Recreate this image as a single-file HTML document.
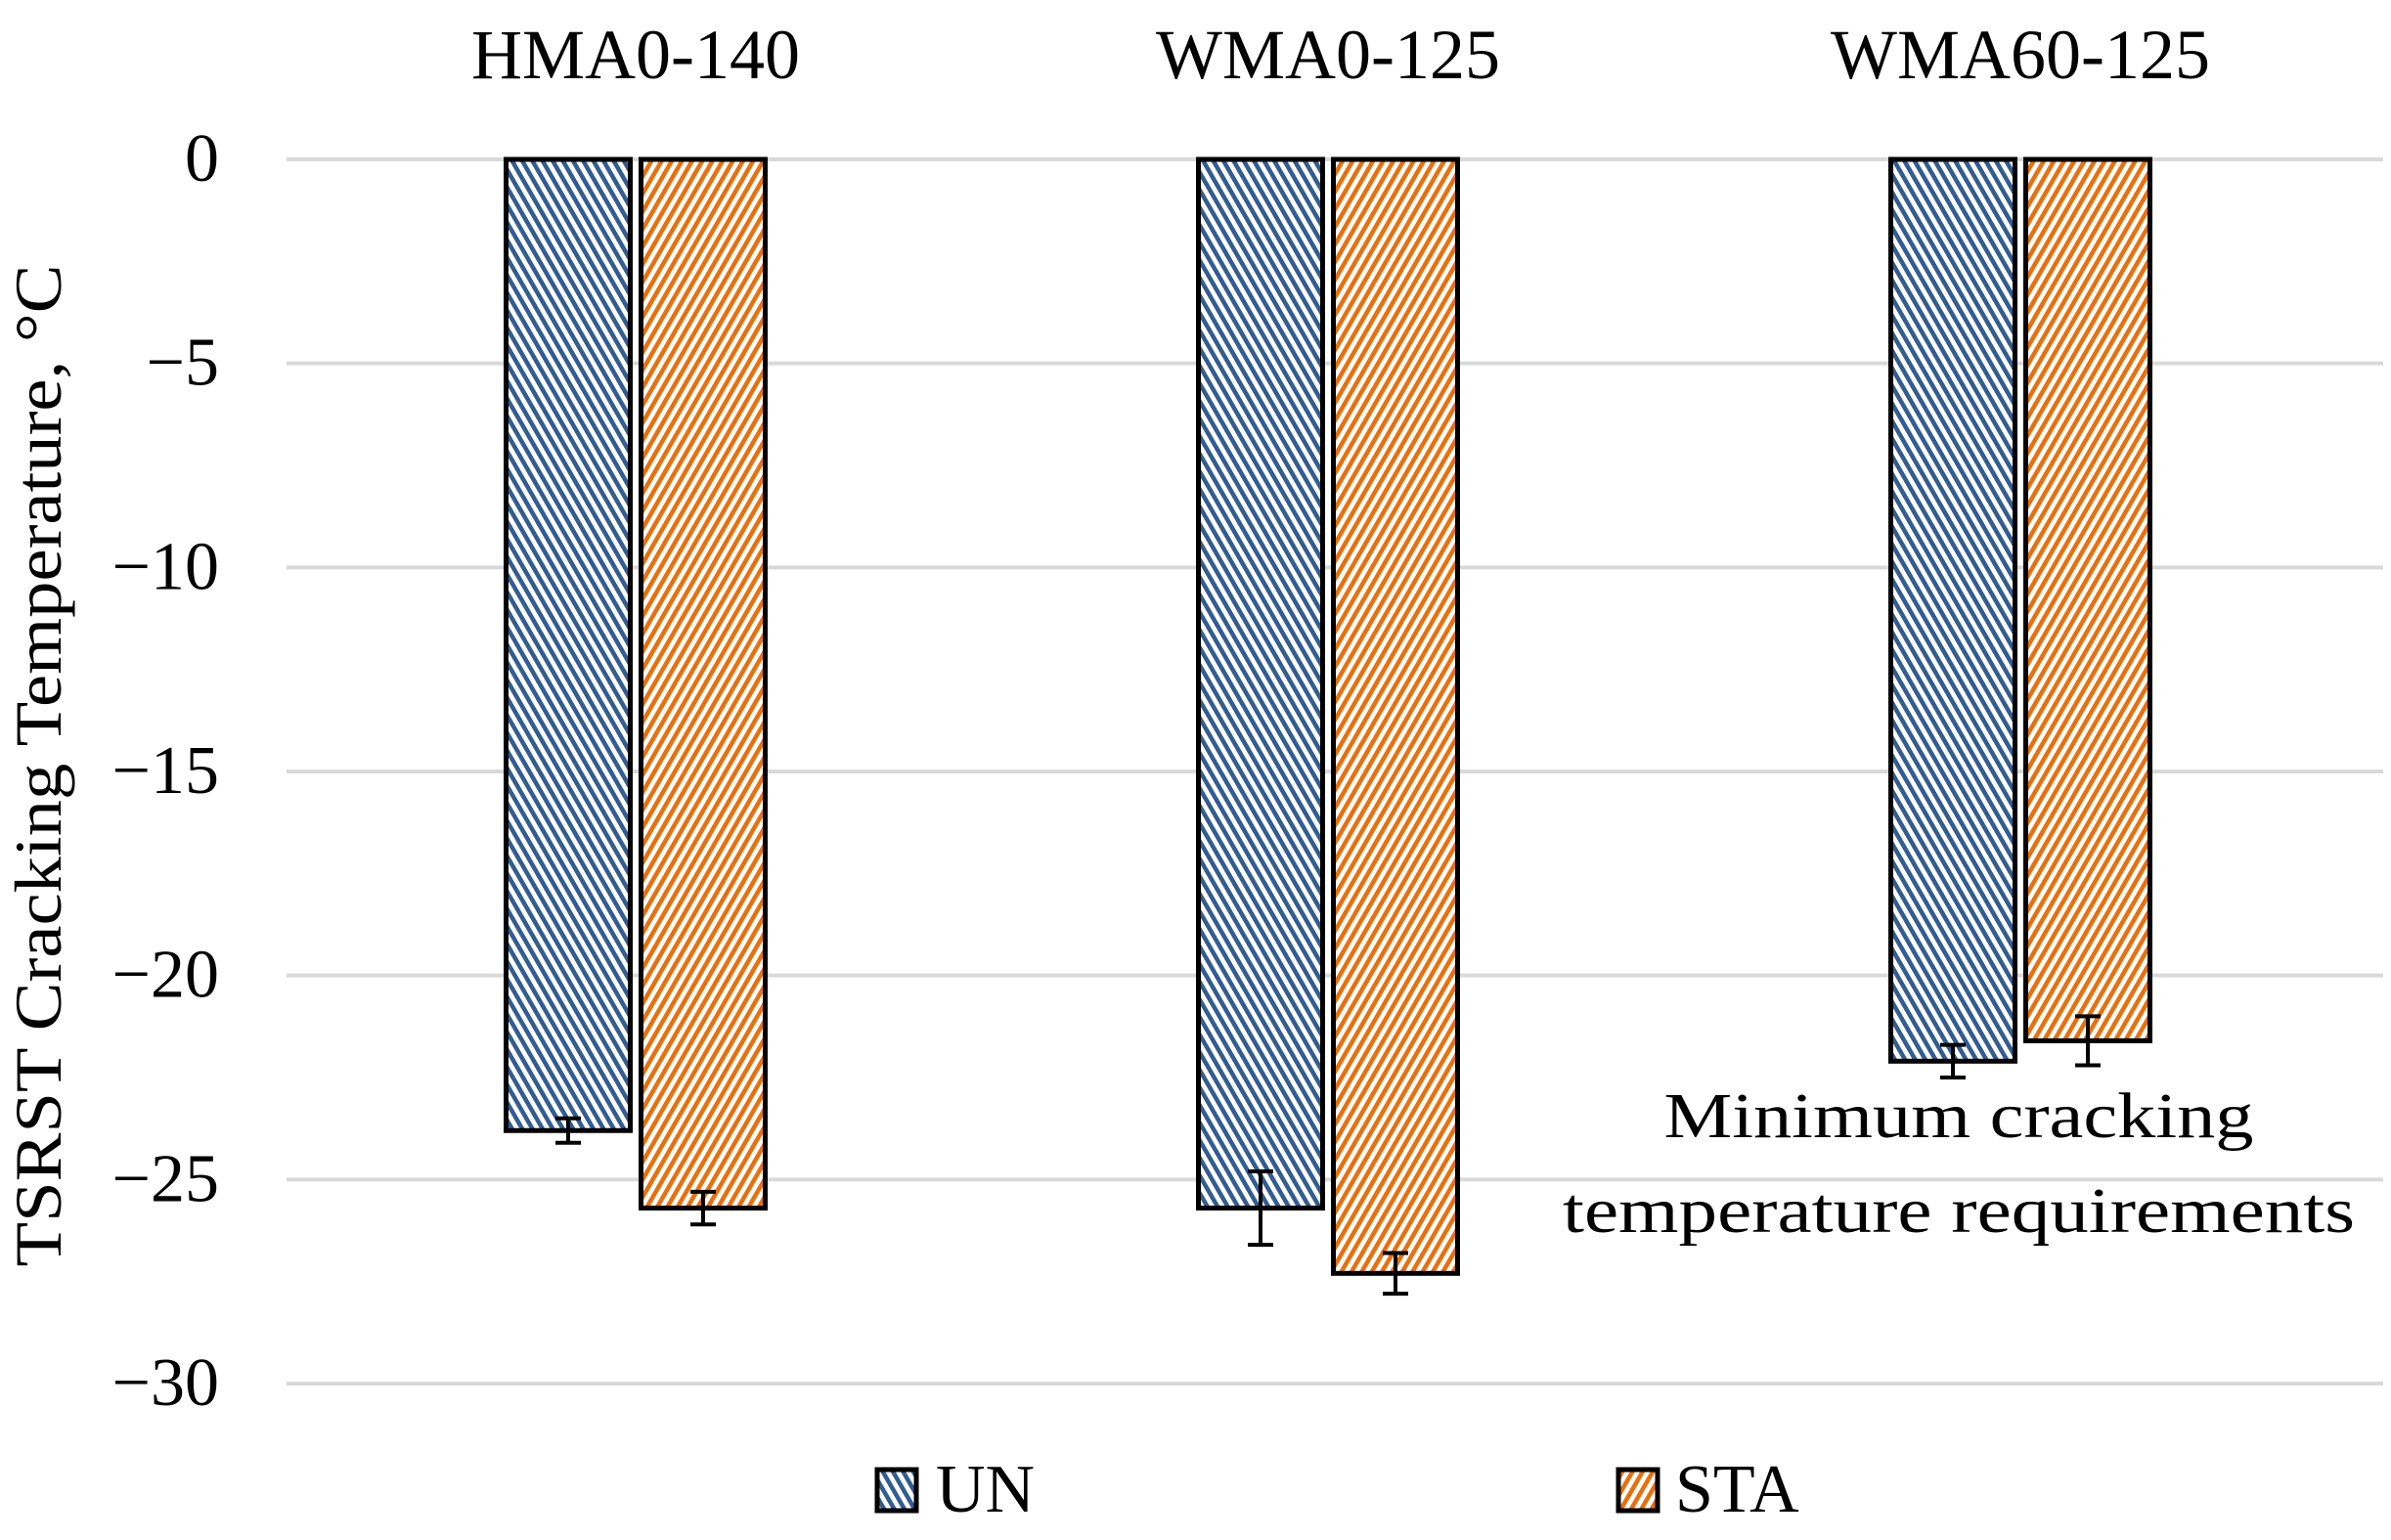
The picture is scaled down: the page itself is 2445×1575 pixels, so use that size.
<!DOCTYPE html>
<html><head><meta charset="utf-8"><style>
html,body{margin:0;padding:0;background:#fff}
svg{display:block;font-family:"Liberation Serif",serif}
</style></head><body>
<svg id="chart" width="2445" height="1575" viewBox="0 0 2445 1575" xmlns="http://www.w3.org/2000/svg">
<defs>
<pattern id="pUN" patternUnits="userSpaceOnUse" width="9" height="9" patternTransform="rotate(-30)">
<rect width="9" height="9" fill="#fff"/><rect width="4.5" height="9" fill="#335C8F"/>
</pattern>
<pattern id="pSTA" patternUnits="userSpaceOnUse" width="9" height="9" patternTransform="rotate(30)">
<rect width="9" height="9" fill="#fff"/><rect width="4.5" height="9" fill="#E8700D"/>
</pattern>
</defs>
<g id="grid"></g>
<g id="bars"></g>
<text transform="translate(62,783) rotate(-90)" text-anchor="middle" font-size="68" textLength="1025" lengthAdjust="spacingAndGlyphs">TSRST Cracking Temperature, °C</text>
<text x="2003" y="1163" text-anchor="middle" font-size="66" textLength="603" lengthAdjust="spacingAndGlyphs">Minimum cracking</text>
<text x="2003" y="1260" text-anchor="middle" font-size="66" textLength="810" lengthAdjust="spacingAndGlyphs">temperature requirements</text>
<g>
<rect x="897" y="1503" width="40" height="42" fill="url(#pUN)" stroke="#000" stroke-width="5"/>
<text x="957" y="1546" font-size="70">UN</text>
<rect x="1655" y="1503" width="40" height="42" fill="url(#pSTA)" stroke="#000" stroke-width="5"/>
<text x="1713" y="1546" font-size="70">STA</text>
</g>
</svg>
<script>
const categories = ["HMA0-140", "WMA0-125", "WMA60-125"];
const unValues = [-23.8, -25.7, -22.1];
const staValues = [-25.7, -27.3, -21.6];
const unErrors = [0.3, 0.9, 0.4];
const staErrors = [0.4, 0.5, 0.6];
const yTicks = [0, -5, -10, -15, -20, -25, -30];
const yTickLabels = ["0", "\u22125", "\u221210", "\u221215", "\u221220", "\u221225", "\u221230"];

const NS = "http://www.w3.org/2000/svg";
const plotL = 293, plotR = 2437, y0px = 163, y30px = 1415;
function yScale(v){ return y0px + (0 - v) / 30 * (y30px - y0px); }
const catW = 708;
const firstCenter = 650;
function xCenter(i){ return firstCenter + catW * i; }
const barW = 127, gap = 11;

const grid = document.getElementById('grid');
yTicks.forEach((t, i) => {
  const ln = document.createElementNS(NS, 'line');
  
  
  ln.setAttribute('x1', plotL); ln.setAttribute('x2', plotR);
  ln.setAttribute('y1', yScale(t)); ln.setAttribute('y2', yScale(t));
  ln.setAttribute('stroke', '#d9d9d9'); ln.setAttribute('stroke-width', '4');
  grid.appendChild(ln);
  const tx = document.createElementNS(NS, 'text');
  
  
  tx.setAttribute('x', 224); tx.setAttribute('y', yScale(t) + 22);
  tx.setAttribute('text-anchor', 'end'); tx.setAttribute('font-size', '70');
  tx.textContent = yTickLabels[i];
  grid.appendChild(tx);
});

const bars = document.getElementById('bars');
function drawBar(x, v, err, fill, name){
  const r = document.createElementNS(NS, 'rect');
  
  
  r.setAttribute('x', x); r.setAttribute('y', yScale(0));
  r.setAttribute('width', barW); r.setAttribute('height', yScale(v) - yScale(0));
  r.setAttribute('fill', fill); r.setAttribute('stroke', '#000'); r.setAttribute('stroke-width', '5');
  bars.appendChild(r);
  const cx = x + barW / 2;
  const e = document.createElementNS(NS, 'path');
  
  
  const yt = yScale(v + err), yb = yScale(v - err);
  e.setAttribute('d', `M${cx},${yt}V${yb}M${cx-13},${yt}H${cx+13}M${cx-13},${yb}H${cx+13}`);
  e.setAttribute('stroke', '#000'); e.setAttribute('stroke-width', '4'); e.setAttribute('fill', 'none');
  bars.appendChild(e);
}
categories.forEach((c, i) => {
  const cx = xCenter(i);
  drawBar(cx - gap/2 - barW, unValues[i], unErrors[i], 'url(#pUN)', 'bar-un-' + c.toLowerCase());
  drawBar(cx + gap/2, staValues[i], staErrors[i], 'url(#pSTA)', 'bar-sta-' + c.toLowerCase());
  const t = document.createElementNS(NS, 'text');
  
  
  t.setAttribute('x', cx); t.setAttribute('y', 80);
  t.setAttribute('text-anchor', 'middle'); t.setAttribute('font-size', '72');
  t.textContent = c;
  bars.appendChild(t);
});
</script>
</body></html>
